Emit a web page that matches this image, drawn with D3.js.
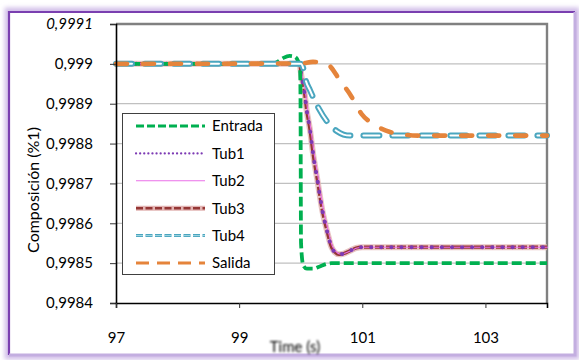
<!DOCTYPE html>
<html>
<head>
<meta charset="utf-8">
<script src="https://cdn.jsdelivr.net/npm/d3@7"></script>
<style>
  html, body { margin: 0; padding: 0; background: #ffffff; }
  svg { display: block; }
  text { font-family: Lato, "Open Sans", "Liberation Sans", sans-serif; fill: #000; }
</style>
</head>
<body>
<svg id="chart" width="579" height="360"></svg>
<script>
// ---- Data: composition vs. time for each stage ----
const xTicks = [97, 99, 101, 103];
const yTicks = [0.9984, 0.9985, 0.9986, 0.9987, 0.9988, 0.9989, 0.999, 0.9991];
const yTickLabels = ["0,9984", "0,9985", "0,9986", "0,9987", "0,9988", "0,9989", "0,999", "0,9991"];

const entradaT = [97, 99.55, 99.62, 99.72, 99.82, 99.9, 99.96, 99.99, 99.997, 100.005, 100.04, 100.1, 100.2, 100.3, 100.42, 100.5, 104];
const entradaV = [0.999, 0.999, 0.999005, 0.999015, 0.99902, 0.999018, 0.999006, 0.99899, 0.9989, 0.99855, 0.998495, 0.998486, 0.998486, 0.998491, 0.998498, 0.9985, 0.9985];

const tubT  = [97, 99.98, 100.01, 100.05, 100.1, 100.15, 100.2, 100.27, 100.35, 100.43, 100.5, 100.55, 100.62, 100.7, 100.8, 100.9, 101.0, 104];
const tub1V = [0.999, 0.999, 0.99897, 0.99894, 0.99888, 0.998835, 0.998775, 0.998709, 0.998633, 0.998579, 0.99854, 0.998528, 0.998522, 0.998524, 0.998531, 0.998538, 0.99854, 0.99854];
const tub2V = [0.999, 0.999, 0.99897, 0.99894, 0.99888, 0.998835, 0.998777, 0.998712, 0.998636, 0.998581, 0.998542, 0.99853, 0.998523, 0.998525, 0.998531, 0.998538, 0.99854, 0.99854];
const tub3V = [0.999, 0.999, 0.99897, 0.99894, 0.99888, 0.998835, 0.998775, 0.998709, 0.998633, 0.998579, 0.99854, 0.998528, 0.998522, 0.998524, 0.998531, 0.998538, 0.99854, 0.99854];

const tub4T = [97, 100.0, 100.04, 100.08, 100.15, 100.29, 100.44, 100.59, 100.8, 101.0, 104];
const tub4V = [0.999, 0.999, 0.99899, 0.99896, 0.998934, 0.998889, 0.998853, 0.998831, 0.99882, 0.99882, 0.99882];

const salidaT = [97, 99.99, 100.2, 100.35, 100.47, 100.63, 100.8, 100.99, 101.2, 101.45, 101.69, 101.93, 104];
const salidaV = [0.999, 0.999001, 0.999005, 0.999003, 0.998995, 0.99896, 0.998924, 0.998874, 0.998847, 0.998829, 0.998822, 0.99882, 0.99882];

const seriesNames = ["Entrada", "Tub1", "Tub2", "Tub3", "Tub4", "Salida"];

// ---- Layout ----
const svg = d3.select("#chart");
const W = 579, H = 360;
const plot = { left: 116, right: 547, top: 24, bottom: 303 };

const x = d3.scaleLinear().domain([97, 104]).range([plot.left, plot.right]);
const y = d3.scaleLinear().domain([0.9984, 0.9991]).range([plot.bottom, plot.top]);

const defs = svg.append("defs");
defs.append("filter").attr("id", "glow").attr("x", "-5%").attr("y", "-5%").attr("width", "110%").attr("height", "110%")
  .append("feGaussianBlur").attr("stdDeviation", 2.2);
defs.append("filter").attr("id", "soft").attr("x", "-10%").attr("y", "-10%").attr("width", "120%").attr("height", "120%")
  .append("feGaussianBlur").attr("stdDeviation", 0.8);

// ---- Outer frame with lavender glow ----
const fr = { x0: 9, y0: 12, x1: 575, y1: 355 };
svg.append("rect")
  .attr("x", fr.x0).attr("y", fr.y0).attr("width", fr.x1 - fr.x0).attr("height", fr.y1 - fr.y0)
  .attr("fill", "none").attr("stroke", "#d2bfe9").attr("stroke-width", 9).attr("filter", "url(#glow)");
svg.append("rect")
  .attr("x", fr.x0).attr("y", fr.y0).attr("width", fr.x1 - fr.x0).attr("height", fr.y1 - fr.y0)
  .attr("fill", "#ffffff").attr("stroke", "none");
svg.append("path")
  .attr("d", `M${fr.x1},${fr.y0}H${fr.x0}V${fr.y1}`)
  .attr("fill", "none").attr("stroke", "#7a3fb0").attr("stroke-width", 2.2);
svg.append("path")
  .attr("d", `M${fr.x0},${fr.y1}H${fr.x1}V${fr.y0}`)
  .attr("fill", "none").attr("stroke", "#c3aee0").attr("stroke-width", 3);

// ---- Gridlines ----
svg.append("g")
  .selectAll("line")
  .data(yTicks.slice(1, -1))
  .join("line")
  .attr("x1", plot.left).attr("x2", plot.right)
  .attr("y1", d => y(d)).attr("y2", d => y(d))
  .attr("stroke", "#c0c0c0").attr("stroke-width", 1.2);

// ---- Plot frame (top / right) ----
svg.append("path")
  .attr("d", `M${plot.left},${plot.top}H${plot.right}V${plot.bottom}`)
  .attr("fill", "none").attr("stroke", "#808080").attr("stroke-width", 2.4);

// ---- Series ----
const line = d3.line().curve(d3.curveMonotoneX);
const pts = (T, V) => T.map((t, i) => [x(t), y(V[i])]);

const gSeries = svg.append("g");

// Tub3: dark red dashes with a pale halo
gSeries.append("path").attr("d", line(pts(tubT, tub3V)))
  .attr("fill", "none").attr("stroke", "#e2b4b3").attr("stroke-width", 6).attr("stroke-opacity", 0.8);
gSeries.append("path").attr("d", line(pts(tubT, tub3V)))
  .attr("fill", "none").attr("stroke", "#953735").attr("stroke-width", 3.2)
  .attr("stroke-dasharray", "9,2");

// Tub2: thin pink line
gSeries.append("path").attr("d", line(pts(tubT, tub2V).map(p => [p[0] + 1, p[1]])))
  .attr("fill", "none").attr("stroke", "#ea6fe8").attr("stroke-width", 1.1);

// Tub1: purple round dots
gSeries.append("path").attr("d", line(pts(tubT, tub1V)))
  .attr("fill", "none").attr("stroke", "#7d3bb4").attr("stroke-width", 4)
  .attr("stroke-linecap", "round").attr("stroke-dasharray", "0.1,10");

// Entrada: green dashes
gSeries.append("path").attr("d", line(pts(entradaT, entradaV)))
  .attr("fill", "none").attr("stroke", "#00b050").attr("stroke-width", 3.8)
  .attr("stroke-dasharray", "10,4");

// Tub4: hollow teal dashes
gSeries.append("path").attr("d", line(pts(tub4T, tub4V)))
  .attr("fill", "none").attr("stroke", "#4aa6bf").attr("stroke-width", 6)
  .attr("stroke-linecap", "round").attr("stroke-dasharray", "16,13");
gSeries.append("path").attr("d", line(pts(tub4T, tub4V)))
  .attr("fill", "none").attr("stroke", "#ffffff").attr("stroke-width", 2)
  .attr("stroke-linecap", "round").attr("stroke-dasharray", "16,13");

// Salida: long orange dashes
gSeries.append("path").attr("d", line(pts(salidaT, salidaV)))
  .attr("fill", "none").attr("stroke", "#e5843b").attr("stroke-width", 4.6)
  .attr("stroke-linecap", "round").attr("stroke-dasharray", "11,16");

// ---- Axes ----
const yAxis = d3.axisLeft(y).tickValues(yTicks).tickSize(6).tickPadding(17)
  .tickFormat((d, i) => yTickLabels[i]);
const gy = svg.append("g").attr("transform", `translate(${plot.left},0)`).call(yAxis);
gy.select(".domain").attr("stroke", "#000").attr("stroke-width", 1.6);
gy.selectAll(".tick line").attr("stroke", "#333").attr("stroke-width", 1);
gy.selectAll(".tick text").attr("font-size", 15).attr("font-family", "Lato, sans-serif").attr("fill", "#111");
gy.selectAll(".tick text").filter((d, i) => i === yTicks.length - 1)
  .attr("font-style", "italic");

const xAxis = d3.axisBottom(x).tickValues(xTicks).tickSize(5).tickPadding(24).tickFormat(d => String(d));
const gx = svg.append("g").attr("transform", `translate(0,${plot.bottom})`).call(xAxis);
gx.select(".domain").attr("stroke", "#000").attr("stroke-width", 1.6);
gx.selectAll(".tick line").attr("stroke", "#333").attr("stroke-width", 1);
gx.selectAll(".tick text").attr("font-size", 15).attr("font-family", "Lato, sans-serif").attr("fill", "#111");

// ---- Axis titles ----
svg.append("text")
  .attr("transform", "translate(39,190) rotate(-90)")
  .attr("text-anchor", "middle")
  .attr("font-size", 16)
  .text("Composición (%1)");

svg.append("text")
  .attr("x", 295).attr("y", 352)
  .attr("text-anchor", "middle")
  .attr("font-size", 15)
  .attr("filter", "url(#soft)")
  .text("Time (s)");

// ---- Legend ----
const lg = svg.append("g");
lg.append("rect")
  .attr("x", 122.5).attr("y", 113.5).attr("width", 152).attr("height", 161)
  .attr("fill", "#ffffff").attr("stroke", "#404040").attr("stroke-width", 1);

const rowY = d3.scalePoint().domain(seriesNames).range([126, 263]);
const sx0 = 136, sx1 = 205;
const legendStyles = {
  Entrada: [{ stroke: "#00b050", w: 3, dash: "8,3" }],
  Tub1:    [{ stroke: "#7d3bb4", w: 2.2, dash: "0.1,4", cap: "round" }],
  Tub2:    [{ stroke: "#ea6fe8", w: 1.1 }],
  Tub3:    [{ stroke: "#e2b4b3", w: 5 }, { stroke: "#953735", w: 2.4, dash: "7,2.5" }],
  Tub4:    [{ stroke: "#4aa6bf", w: 3, dash: "7,2.5" }, { stroke: "#bfe3ec", w: 0.8, dash: "7,2.5" }],
  Salida:  [{ stroke: "#e5843b", w: 3, dash: "13,8" }]
};
seriesNames.forEach(name => {
  const yy = rowY(name);
  legendStyles[name].forEach(s => {
    lg.append("line")
      .attr("x1", sx0).attr("x2", sx1).attr("y1", yy).attr("y2", yy)
      .attr("stroke", s.stroke).attr("stroke-width", s.w)
      .attr("stroke-dasharray", s.dash || null)
      .attr("stroke-linecap", s.cap || "butt");
  });
  lg.append("text")
    .attr("x", 212).attr("y", yy).attr("dy", "0.36em")
    .attr("font-size", 15)
    .text(name);
});
</script>
</body>
</html>
